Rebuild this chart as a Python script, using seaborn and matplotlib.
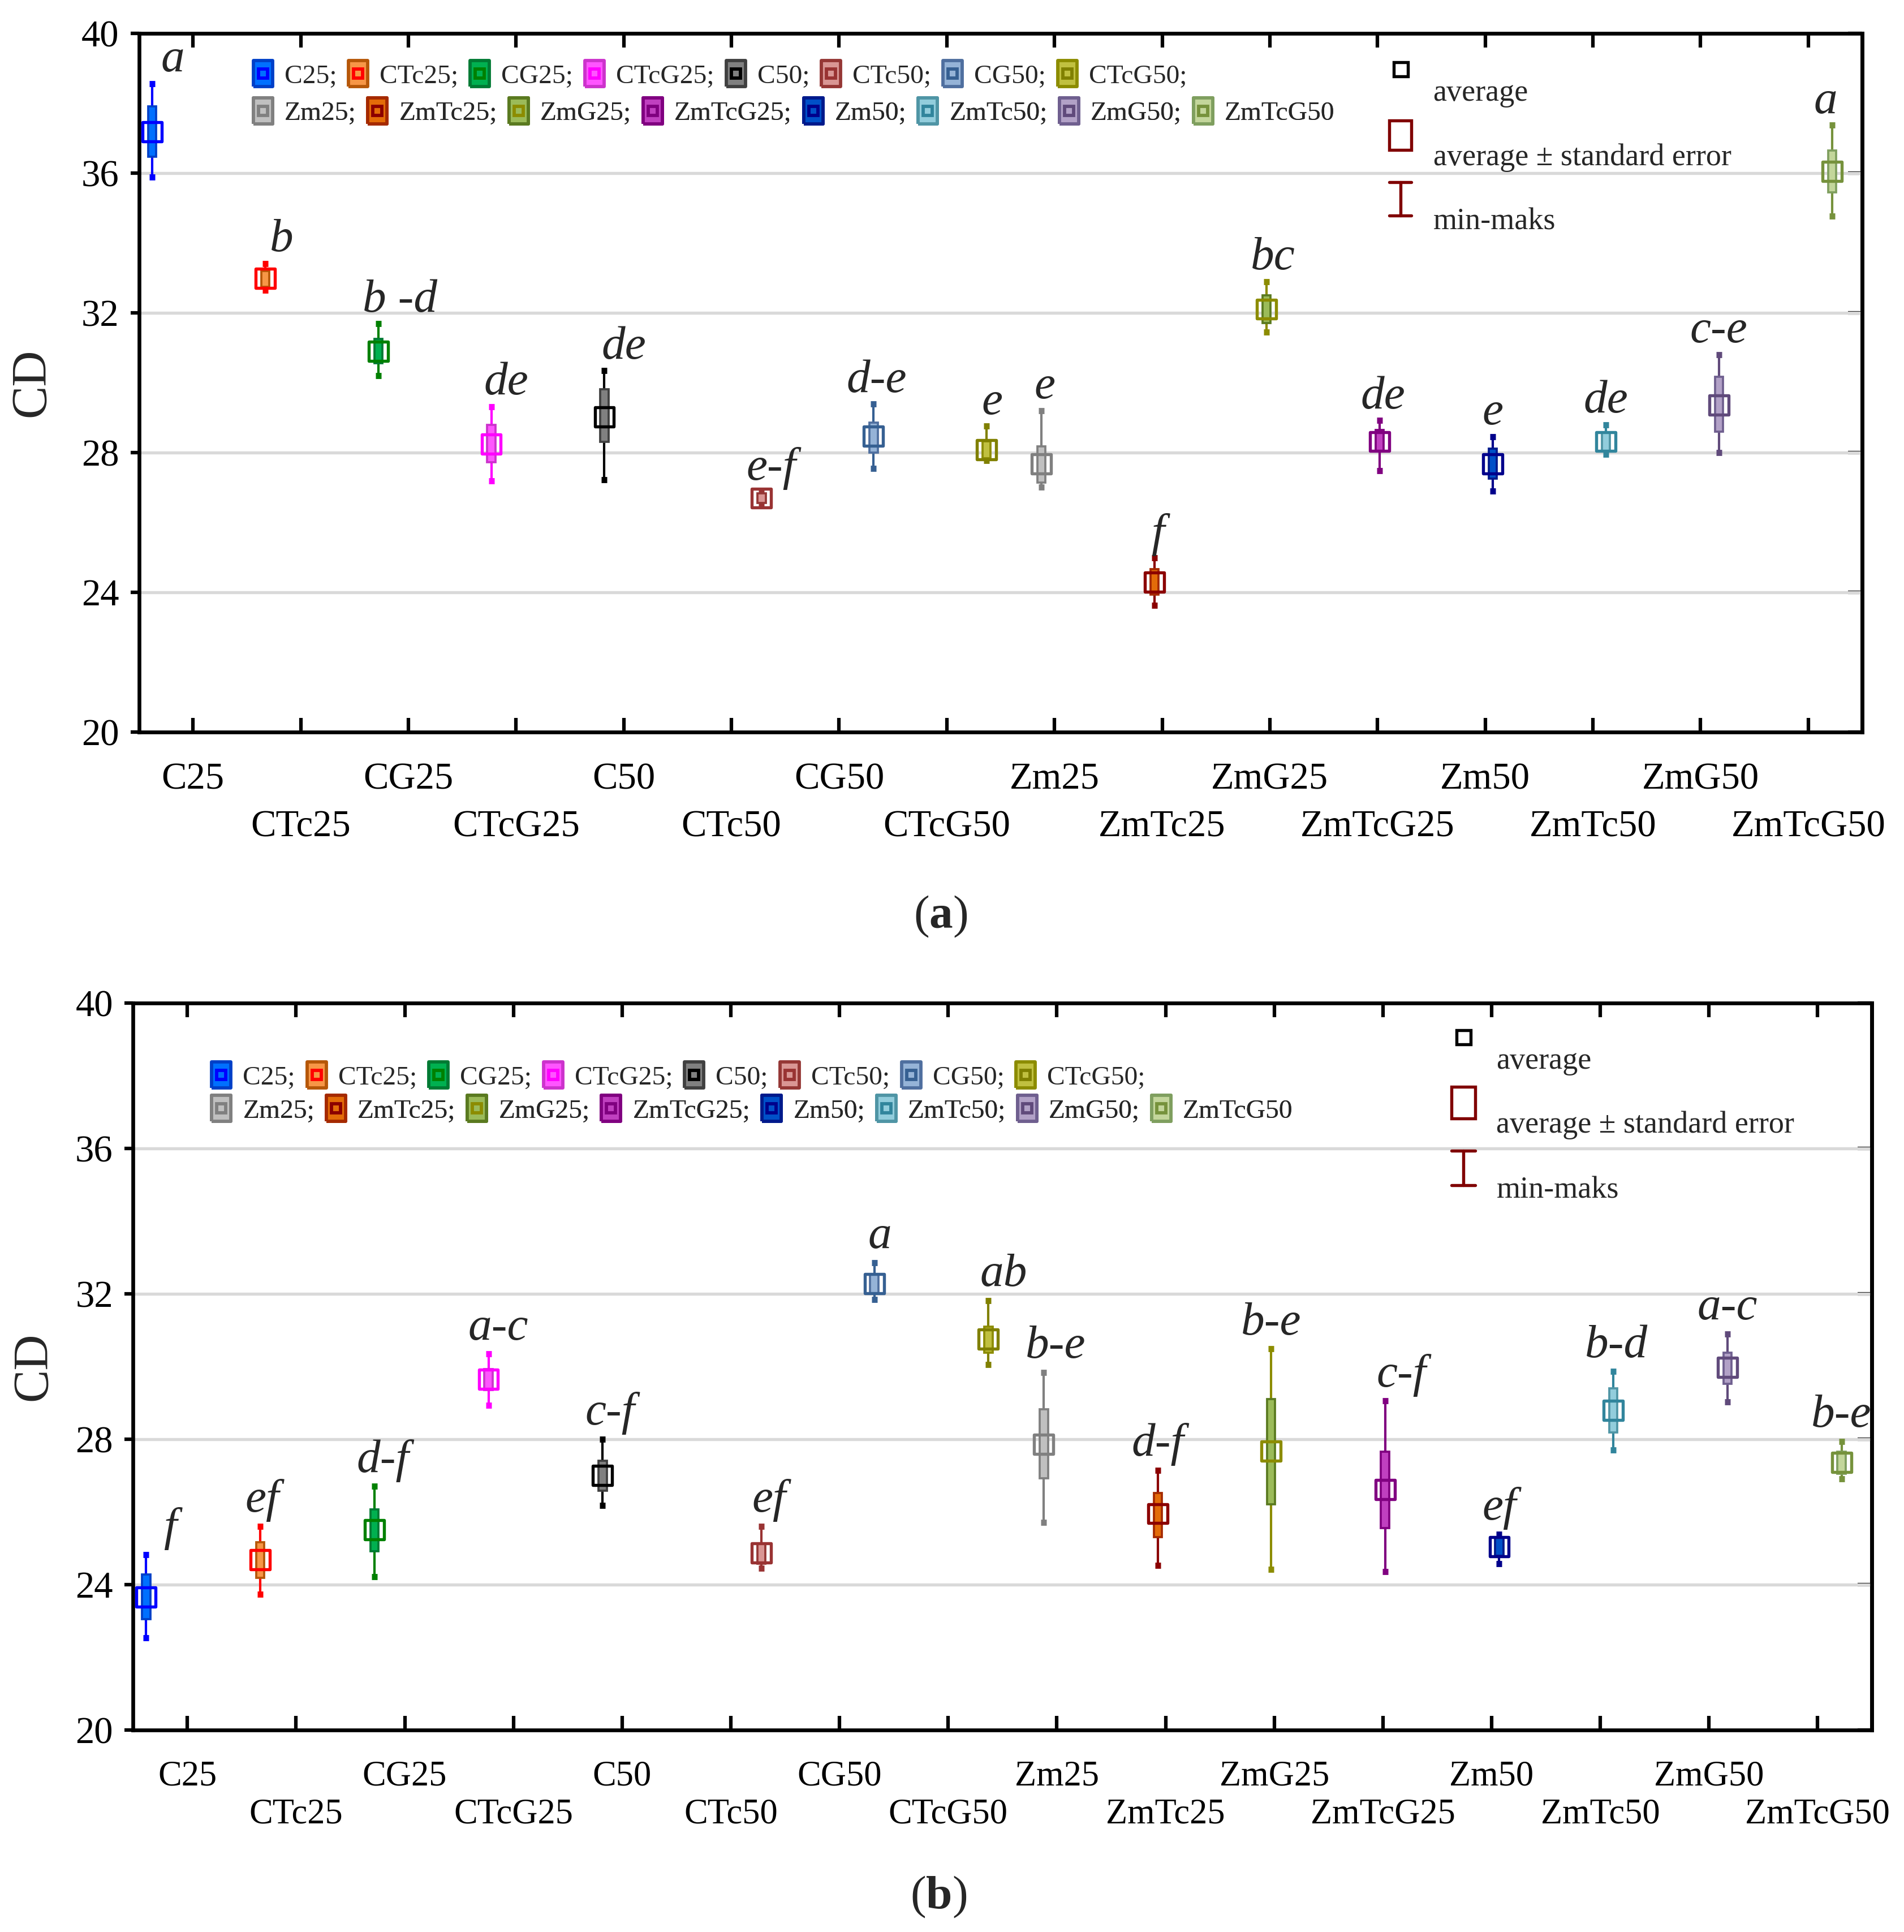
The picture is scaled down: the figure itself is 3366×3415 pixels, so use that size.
import numpy as np
import pandas as pd
import seaborn as sns
import matplotlib.pyplot as plt
from matplotlib.lines import Line2D
from matplotlib.patches import Rectangle

# groups and colours
groups = ['C25', 'CTc25', 'CG25', 'CTcG25', 'C50', 'CTc50', 'CG50', 'CTcG50',
          'Zm25', 'ZmTc25', 'ZmG25', 'ZmTcG25', 'Zm50', 'ZmTc50', 'ZmG50', 'ZmTcG50']
tick_labels = groups

mean_col = ['#0000FF', '#FF0000', '#008000', '#FF00FF', '#000000', '#993333', '#366092', '#808000',
            '#808080', '#8B0000', '#8C8C00', '#800080', '#00008B', '#31859C', '#604A7B', '#76923C']
se_fill = ['#0070FF', '#F79646', '#00B050', '#FF55FF', '#808080', '#D99694', '#95B3D7', '#C0C040',
           '#C0C0C0', '#E36C09', '#9BBB59', '#C040C0', '#0050C8', '#92CDDC', '#B2A1C7', '#C3D69B']
se_edge = ['#0040C8', '#B65708', '#007A33', '#CC33CC', '#404040', '#953735', '#4F6F9F', '#8C8C00',
           '#808080', '#A52A00', '#5A7A20', '#800080', '#001A8C', '#4F95A5', '#6F5F8F', '#7F9F5F']

# panel (a)
a_mean = [37.18, 32.98, 30.90, 28.24, 29.02, 26.69, 28.47, 28.08, 27.67, 24.29, 32.10, 28.31, 27.67, 28.31, 29.35, 36.04]
a_se_hi = [37.91, 33.20, 31.25, 28.78, 29.81, 26.83, 28.86, 28.32, 28.18, 24.65, 32.50, 28.64, 28.10, 28.56, 30.17, 36.64]
a_se_lo = [36.47, 32.74, 30.55, 27.72, 28.31, 26.55, 28.00, 27.83, 27.14, 23.93, 31.71, 28.04, 27.25, 28.04, 28.59, 35.44]
a_min = [35.89, 32.65, 30.19, 27.18, 27.21, 26.51, 27.54, 27.76, 27.00, 23.62, 31.44, 27.47, 26.90, 27.94, 27.99, 34.76]
a_max = [38.56, 33.41, 31.68, 29.31, 30.34, 26.86, 29.38, 28.75, 29.20, 24.98, 32.89, 28.91, 28.45, 28.79, 30.80, 37.37]
a_letters = ['a', 'b', 'b -d', 'de', 'de', 'e-f', 'd-e', 'e', 'e', 'f', 'bc', 'de', 'e', 'de', 'c-e', 'a']

# panel (b)
b_mean = [23.66, 24.68, 25.50, 29.64, 27.00, 24.87, 32.27, 30.75, 27.85, 25.95, 27.67, 26.61, 25.04, 28.79, 29.97, 27.36]
b_se_hi = [24.28, 25.16, 26.06, 29.93, 27.41, 25.13, 32.52, 31.09, 28.82, 26.52, 29.10, 27.65, 25.30, 29.39, 30.37, 27.65]
b_se_lo = [23.05, 24.19, 24.91, 29.35, 26.58, 24.58, 31.99, 30.37, 26.92, 25.30, 26.20, 25.55, 24.79, 28.19, 29.52, 27.04]
b_min = [22.54, 23.73, 24.21, 28.93, 26.17, 24.45, 31.84, 30.05, 25.71, 24.53, 24.41, 24.36, 24.58, 27.70, 29.03, 26.90]
b_max = [24.82, 25.60, 26.70, 30.34, 28.00, 25.60, 32.85, 31.81, 29.83, 27.14, 30.48, 29.05, 25.38, 29.86, 30.89, 27.94]
b_letters = ['f', 'ef', 'd-f', 'a-c', 'c-f', 'ef', 'a', 'ab', 'b-e', 'd-f', 'b-e', 'c-f', 'ef', 'b-d', 'a-c', 'b-e']

yticks = [20, 24, 28, 32, 36, 40]

# horizontal placement (category units)
dodge = [-0.38, -0.33, -0.28, -0.23, -0.18, 0.28, 0.32, 0.37,
         -0.12, -0.07, -0.03, 0.02, 0.07, 0.12, 0.17, 0.22]
a_lab_dx = [0.19, 0.15, 0.2, 0.14, 0.18, 0.09, 0.03, 0.05, 0.03, 0.03, 0.06, 0.03, 0, 0, 0, -0.06]
b_lab_dx = [0.22, 0.02, 0.08, 0.09, 0.07, 0.07, 0.05, 0.14, 0.11, 0, 0, 0.15, 0, 0.03, 0, 0]

sns.set_theme(style='white')
plt.rcParams['font.family'] = ['Liberation Serif', 'DejaVu Serif']
plt.rcParams['mathtext.fontset'] = 'custom'
plt.rcParams['mathtext.rm'] = 'Liberation Serif'
plt.rcParams['mathtext.bf'] = 'Liberation Serif:bold'

rect_outer = [(-0.75, -1), (0.75, -1), (0.75, 1), (-0.75, 1), (-0.75, -1)]


def draw_panel(ax, mean, se_lo, se_hi, vmin, vmax, letters, lab_dx, leg_pos, key_pos, xfont, pads, lab_dy):
    df = pd.DataFrame({'group': groups, 'mean': mean, 'se_lo': se_lo, 'se_hi': se_hi,
                       'vmin': vmin, 'vmax': vmax})
    df['x'] = np.arange(len(groups)) + np.array(dodge)

    # min-max whiskers
    for i, r in df.iterrows():
        ax.errorbar(r['x'], r['mean'], yerr=[[r['mean'] - r['vmin']], [r['vmax'] - r['mean']]],
                    fmt='none', ecolor=mean_col[i], elinewidth=1.0, capsize=1.3, capthick=2.6, zorder=2)
    # standard error boxes
    ax.bar(df['x'], df['se_hi'] - df['se_lo'], bottom=df['se_lo'], width=0.075,
           color=se_fill, edgecolor=se_edge, linewidth=0.9, zorder=3)
    # averages
    sns.scatterplot(data=df, x='x', y='mean', hue='group', palette=dict(zip(groups, mean_col)),
                    marker='s', s=66, linewidth=1.3, legend=False, ax=ax, zorder=4)
    pts = ax.collections[-1]
    pts.set_edgecolors(pts.get_facecolors())
    pts.set_facecolors('none')

    for i, r in df.iterrows():
        ax.text(r['x'] + lab_dx[i], r['vmax'] + lab_dy, letters[i], style='italic', fontsize=20,
                ha='center', va='baseline', zorder=5)

    ax.set_xlim(-0.5, 15.5)
    ax.set_ylim(20, 40)
    ax.set_yticks(yticks)
    pos = np.arange(len(groups))
    ax.set_xticks(pos[::2], tick_labels[::2], fontsize=xfont)
    ax.set_xticks(pos[1::2], tick_labels[1::2], minor=True, fontsize=xfont)
    ax.set_xlabel('')
    ax.set_ylabel('CD', fontsize=21)
    ax.grid(axis='y', color='#D9D9D9', linewidth=1.3)
    ax.grid(axis='x', which='both', visible=False)
    ax.set_axisbelow(True)
    for sp in ax.spines.values():
        sp.set_color('black')
        sp.set_linewidth(1.6)
    ax.tick_params(axis='x', which='major', direction='in', length=6, width=1.5, top=True, bottom=True,
                   pad=pads[0], colors='black')
    ax.tick_params(axis='x', which='minor', direction='in', length=6, width=1.5, top=True, bottom=True,
                   pad=pads[1], colors='black')
    ax.tick_params(axis='y', direction='out', length=3.5, width=1.5, left=True, right=False,
                   labelsize=16, pad=5, colors='black')
    sec = ax.secondary_yaxis('right')
    sec.set_yticks(yticks)
    sec.tick_params(direction='in', length=6, width=1.5, labelright=False, right=True, colors='black')
    sec.spines['right'].set_linewidth(1.6)
    sec.spines['right'].set_color('black')

    # group legend in two rows
    handles = []
    for i, g in enumerate(groups):
        outer = Line2D([], [], ls='none', marker=rect_outer, ms=11, mfc=se_fill[i], mec=se_edge[i], mew=1.4)
        inner = Line2D([], [], ls='none', marker='s', ms=4, mfc='none', mec=mean_col[i], mew=1.4)
        handles.append((outer, inner))
    labels = [g + ';' for g in groups[:-1]] + [groups[-1]]
    lx, ly1, ly2 = leg_pos
    for rows, yy in [(slice(0, 8), ly1), (slice(8, 16), ly2)]:
        leg = ax.legend(handles[rows], labels[rows], ncol=8, loc='center left', bbox_to_anchor=(lx, yy),
                        frameon=False, fontsize=11.4, handlelength=1.0, handletextpad=0.3,
                        columnspacing=0.3, borderaxespad=0, borderpad=0)
        ax.add_artist(leg)

    # key for the marks
    kx, tx, ys, yst, yr, yrt, yw0, yw1, ywt, rw, rh = key_pos
    red = '#800000'
    ax.plot([kx], [ys], transform=ax.transAxes, marker='s', ms=6, mfc='none', mec='black', mew=1.3,
            ls='none', clip_on=False)
    ax.text(tx, yst, 'average', transform=ax.transAxes, fontsize=13, va='center')
    ax.add_patch(Rectangle((kx - rw / 2, yr - rh / 2), rw, rh, fill=False, edgecolor=red, lw=1.3,
                           transform=ax.transAxes))
    ax.text(tx, yrt, 'average ± standard error', transform=ax.transAxes, fontsize=13, va='center')
    ax.plot([kx, kx], [yw0, yw1], transform=ax.transAxes, color=red, lw=1.3)
    for yy in (yw0, yw1):
        ax.plot([kx - rw / 2, kx + rw / 2], [yy, yy], transform=ax.transAxes, color=red, lw=1.3)
    ax.text(tx, ywt, 'min-maks', transform=ax.transAxes, fontsize=13, va='center')


fig = plt.figure(figsize=(3366 / 300, 3415 / 300), dpi=300)
ax_a = fig.add_axes([0.0731, 0.6212, 0.9049, 0.3616])
ax_b = fig.add_axes([0.0699, 0.1046, 0.9133, 0.3763])

draw_panel(ax_a, a_mean, a_se_lo, a_se_hi, a_min, a_max, a_letters, a_lab_dx,
           (0.064, 0.938, 0.885),
           (0.732, 0.751, 0.949, 0.914, 0.854, 0.822, 0.787, 0.739, 0.730, 0.0129, 0.042),
           16, (13, 33), 0.35)
draw_panel(ax_b, b_mean, b_se_lo, b_se_hi, b_min, b_max, b_letters, b_lab_dx,
           (0.043, 0.897, 0.851),
           (0.765, 0.784, 0.953, 0.920, 0.863, 0.832, 0.797, 0.749, 0.742, 0.0135, 0.044),
           15, (13, 29), 0.4)

ax_a.yaxis.set_label_coords(-0.049, 0.5)
ax_b.yaxis.set_label_coords(-0.044, 0.5)

fig.text(0.494, 0.5255, r'($\mathbf{a}$)', ha='center', va='center', fontsize=20)
fig.text(0.493, 0.018, r'($\mathbf{b}$)', ha='center', va='center', fontsize=20)

fig.savefig('out.png', dpi=300)
